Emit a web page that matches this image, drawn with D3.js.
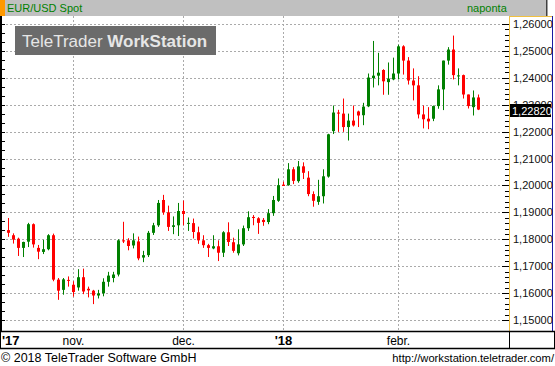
<!DOCTYPE html>
<html>
<head>
<meta charset="utf-8">
<script src="https://cdn.jsdelivr.net/npm/d3@7"></script>
<style>
  html, body { margin: 0; padding: 0; background: #fff; }
  svg { display: block; font-family: "Liberation Sans", Arial, sans-serif; }
</style>
</head>
<body>
<svg id="chart" width="555" height="366"></svg>
<script>
// ---- Data (EUR/USD Spot, daily OHLC) ----
const opens  = [1.1834,1.1815,1.1802,1.1768,1.1791,1.1856,1.1768,1.1753,1.1763,1.1815,
                1.1650,1.1612,1.1649,1.1631,1.1621,1.1659,1.1616,1.1609,1.1591,1.1599,
                1.1642,1.1656,1.1669,1.1796,1.1796,1.1777,1.1792,1.1732,1.1741,1.1824,
                1.1852,1.1946,1.1900,1.1846,1.1852,1.1905,1.1857,1.1860,1.1826,1.1796,
                1.1778,1.1766,1.1774,1.1750,1.1826,1.1789,1.1748,1.1781,1.1841,1.1883,
                1.1878,1.1872,1.1864,1.1897,1.1943,1.2003,1.2001,1.2060,1.2016,1.2071,
                1.2029,1.1968,1.1939,1.1960,1.2033,1.2202,1.2271,1.2267,1.2217,1.2241,
                1.2275,1.2261,1.2294,1.2399,1.2408,1.2429,1.2384,1.2394,1.2416,1.2517,
                1.2464,1.2390,1.2372,1.2264,1.2248,1.2248,1.2295,1.2357,1.2464,1.2505,
                1.2406,1.2410,1.2338,1.2291,1.2327];
const highs  = [1.1879,1.1822,1.1806,1.1791,1.1861,1.1859,1.1779,1.1798,1.1819,1.1821,
                1.1656,1.1656,1.1662,1.1644,1.1689,1.1691,1.1624,1.1612,1.1612,1.1655,
                1.1679,1.1679,1.1800,1.1865,1.1804,1.1822,1.1810,1.1757,1.1831,1.1861,
                1.1946,1.1965,1.1925,1.1885,1.1935,1.1944,1.1881,1.1877,1.1847,1.1815,
                1.1783,1.1815,1.1796,1.1830,1.1863,1.1806,1.1837,1.1851,1.1904,1.1890,
                1.1882,1.1879,1.1912,1.1961,1.2026,1.2014,1.2083,1.2068,1.2091,1.2086,
                1.2053,1.1978,1.2021,1.2060,1.2192,1.2297,1.2281,1.2323,1.2267,1.2297,
                1.2278,1.2307,1.2416,1.2537,1.2493,1.2432,1.2457,1.2475,1.2523,1.2521,
                1.2477,1.2435,1.2406,1.2297,1.2291,1.2297,1.2372,1.2464,1.2514,1.2557,
                1.2435,1.2412,1.2338,1.2353,1.2338];
const lows   = [1.1809,1.1784,1.1738,1.1734,1.1771,1.1769,1.1726,1.1745,1.1759,1.1644,
                1.1575,1.1594,1.1624,1.1587,1.1609,1.1596,1.1584,1.1559,1.1580,1.1588,
                1.1624,1.1640,1.1662,1.1786,1.1759,1.1766,1.1722,1.1715,1.1734,1.1816,
                1.1846,1.1891,1.1831,1.1819,1.1812,1.1852,1.1831,1.1803,1.1783,1.1768,
                1.1734,1.1763,1.1719,1.1734,1.1775,1.1750,1.1740,1.1775,1.1831,1.1852,
                1.1820,1.1850,1.1856,1.1887,1.1939,1.1998,1.1999,1.2005,1.2010,1.2024,
                1.1960,1.1921,1.1928,1.1933,1.2029,1.2191,1.2199,1.2199,1.2167,1.2219,
                1.2217,1.2224,1.2291,1.2364,1.2372,1.2337,1.2337,1.2391,1.2394,1.2412,
                1.2375,1.2316,1.2249,1.2212,1.2209,1.2239,1.2285,1.2280,1.2449,1.2394,
                1.2372,1.2323,1.2286,1.2260,1.2280];
const closes = [1.1824,1.1799,1.1768,1.1790,1.1856,1.1781,1.1754,1.1763,1.1815,1.1650,
                1.1609,1.1651,1.1646,1.1604,1.1659,1.1606,1.1610,1.1591,1.1599,1.1642,
                1.1665,1.1669,1.1796,1.1792,1.1775,1.1796,1.1729,1.1741,1.1824,1.1852,
                1.1935,1.1900,1.1846,1.1852,1.1905,1.1894,1.1861,1.1827,1.1796,1.1778,
                1.1768,1.1774,1.1750,1.1826,1.1790,1.1757,1.1781,1.1841,1.1882,1.1879,
                1.1861,1.1864,1.1897,1.1946,1.2001,1.1998,1.2060,1.2017,1.2071,1.2047,
                1.1968,1.1943,1.1960,1.2034,1.2190,1.2271,1.2267,1.2217,1.2241,1.2223,
                1.2260,1.2293,1.2401,1.2408,1.2419,1.2387,1.2397,1.2416,1.2517,1.2464,
                1.2390,1.2372,1.2264,1.2246,1.2238,1.2295,1.2357,1.2464,1.2505,1.2410,
                1.2409,1.2338,1.2295,1.2327,1.2282];
const monthTickIndex  = [13, 35, 55, 78];
const monthTickLabels = ["nov.", "dec.", "'18", "febr."];
const monthTickBold   = [false, false, true, false];
const startLabel = "'17";
const yTicks = [1.15,1.16,1.17,1.18,1.19,1.20,1.21,1.22,1.23,1.24,1.25,1.26];
const lastPrice = 1.2282;
const title = "EUR/USD Spot";
const period = "naponta";
const footerLeft = "© 2018 TeleTrader Software GmbH";
const footerRight = "http://workstation.teletrader.com/";

// ---- Setup ----
const svg = d3.select("#chart");
const W = 555, H = 366;
const plot = {x0: 2, x1: 508, y0: 16, y1: 331};
const green = "#008000", red = "#ff0000";
const locale = d3.formatLocale({decimal: ",", thousands: ".", grouping: [3], currency: ["", ""]});
const fmt = locale.format(".5f");

const n = closes.length;
const x = d3.scaleLinear().domain([0, n - 1]).range([8, 478]);
const y = d3.scaleLinear().domain([1.15, 1.26]).range([320, 24]);
const px = v => Math.round(x(v));

// background
svg.append("rect").attr("width", W).attr("height", H).attr("fill", "#fff");

// header
svg.append("rect").attr("x", 0).attr("y", 0).attr("width", 546).attr("height", 16).attr("fill", "#c0c0c0");
svg.append("rect").attr("x", 0).attr("y", 0).attr("width", 5).attr("height", 16).attr("fill", "#ff9900");
svg.append("rect").attr("x", 546).attr("y", 0).attr("width", 1.5).attr("height", 16).attr("fill", "#404040");
svg.append("text").attr("x", 7).attr("y", 12).attr("font-size", 11).attr("fill", green).text(title);
svg.append("text").attr("x", 467).attr("y", 12).attr("font-size", 11).attr("fill", green).text(period);

// grid
const grid = svg.append("g");
grid.selectAll("line.h").data(yTicks).join("line")
  .attr("x1", plot.x0).attr("x2", plot.x1)
  .attr("y1", d => Math.round(y(d)) + 0.5).attr("y2", d => Math.round(y(d)) + 0.5)
  .attr("stroke", "#aaaaaa").attr("stroke-dasharray", "2,2");
grid.selectAll("line.v").data(monthTickIndex).join("line")
  .attr("x1", d => px(d) + 0.5).attr("x2", d => px(d) + 0.5)
  .attr("y1", plot.y0).attr("y2", plot.y1)
  .attr("stroke", "#aaaaaa").attr("stroke-dasharray", "2,2");

// watermark
svg.append("rect").attr("x", 15).attr("y", 26).attr("width", 201).attr("height", 29).attr("fill", "#6b6b6b");
const wm = svg.append("text").attr("x", 22).attr("y", 47).attr("font-size", 17).attr("fill", "#e6e6e6");
wm.append("tspan").text("TeleTrader ");
wm.append("tspan").attr("font-weight", "bold").text("WorkStation");

// candles
const cg = svg.append("g");
const idx = d3.range(n);
cg.selectAll("line.wick").data(idx).join("line")
  .attr("x1", i => px(i) + 0.5).attr("x2", i => px(i) + 0.5)
  .attr("y1", i => y(highs[i])).attr("y2", i => y(lows[i]))
  .attr("stroke", i => closes[i] >= opens[i] ? green : red).attr("stroke-width", 1);
cg.selectAll("rect.body").data(idx).join("rect")
  .attr("x", i => px(i) - 1)
  .attr("width", 3)
  .attr("y", i => Math.min(y(opens[i]), y(closes[i])))
  .attr("height", i => Math.max(1, Math.abs(y(opens[i]) - y(closes[i]))))
  .attr("fill", i => closes[i] >= opens[i] ? green : red);

// left axis
const la = svg.append("g");
la.append("line").attr("x1", 1).attr("x2", 1).attr("y1", plot.y0).attr("y2", plot.y1)
  .attr("stroke", "#000").attr("stroke-width", 2);
const leftTicks = d3.range(0, 34).map(k => 1.15 + k * 0.01 / 3).filter(v => y(v) > plot.y0 + 1);
la.selectAll("line.t").data(leftTicks).join("line")
  .attr("x1", 0).attr("x2", 5)
  .attr("y1", d => Math.round(y(d)) + 0.5).attr("y2", d => Math.round(y(d)) + 0.5)
  .attr("stroke", "#000");

// right axis ticks
const ra = svg.append("g");
const rightMinor = d3.range(0, 56).map(k => 1.15 + k * 0.002).filter(v => y(v) > plot.y0 + 1);
ra.selectAll("line.m").data(rightMinor).join("line")
  .attr("x1", 505).attr("x2", 509)
  .attr("y1", d => Math.round(y(d)) + 0.5).attr("y2", d => Math.round(y(d)) + 0.5)
  .attr("stroke", "#000");
ra.selectAll("line.M").data(yTicks).join("line")
  .attr("x1", 502).attr("x2", 509)
  .attr("y1", d => Math.round(y(d)) + 0.5).attr("y2", d => Math.round(y(d)) + 0.5)
  .attr("stroke", "#000");

// right panel
svg.append("line").attr("x1", 509.5).attr("x2", 509.5).attr("y1", plot.y0).attr("y2", plot.y1)
  .attr("stroke", "#f0c040");
svg.append("line").attr("x1", 509).attr("x2", 553).attr("y1", plot.y0 + 0.5).attr("y2", plot.y0 + 0.5)
  .attr("stroke", "#f0c040");
svg.append("line").attr("x1", 552.5).attr("x2", 552.5).attr("y1", plot.y0).attr("y2", plot.y1)
  .attr("stroke", "#1a1aa0");
svg.selectAll("text.yl").data(yTicks).join("text")
  .attr("x", 513).attr("y", d => y(d) + 4)
  .attr("font-size", 11).attr("fill", "#111").text(d => fmt(d));

// last price label
svg.append("rect").attr("x", 510).attr("y", Math.round(y(lastPrice)) - 6).attr("width", 41).attr("height", 13).attr("fill", "#000");
svg.append("text").attr("x", 512).attr("y", Math.round(y(lastPrice)) + 4.5)
  .attr("font-size", 11).attr("fill", "#fff").text(fmt(lastPrice));

// x axis strip
svg.append("line").attr("x1", 0).attr("x2", 555).attr("y1", 331.5).attr("y2", 331.5).attr("stroke", "#000").attr("stroke-width", 1.5);
svg.append("line").attr("x1", 0).attr("x2", 555).attr("y1", 348.5).attr("y2", 348.5).attr("stroke", "#000").attr("stroke-width", 1.5);
svg.append("line").attr("x1", 509.5).attr("x2", 509.5).attr("y1", 331).attr("y2", 349).attr("stroke", "#000");
svg.append("line").attr("x1", 554.5).attr("x2", 554.5).attr("y1", 331).attr("y2", 349).attr("stroke", "#000");
svg.append("line").attr("x1", 0.5).attr("x2", 0.5).attr("y1", 331).attr("y2", 349).attr("stroke", "#000");

svg.append("text").attr("x", 2).attr("y", 345).attr("font-size", 13).attr("font-weight", "bold").attr("fill", "#000").text(startLabel);
svg.selectAll("text.xl").data(monthTickIndex).join("text")
  .attr("x", d => px(d) + 0.5).attr("y", 345)
  .attr("text-anchor", "middle")
  .attr("font-size", (d, i) => monthTickBold[i] ? 13 : 12)
  .attr("font-weight", (d, i) => monthTickBold[i] ? "bold" : "normal")
  .attr("fill", "#000")
  .text((d, i) => monthTickLabels[i]);

// footer
svg.append("text").attr("x", 1).attr("y", 362).attr("font-size", 12.5).attr("fill", "#000").text(footerLeft);
svg.append("text").attr("x", 554).attr("y", 362).attr("text-anchor", "end").attr("font-size", 11.2).attr("fill", "#000").text(footerRight);
</script>
</body>
</html>
